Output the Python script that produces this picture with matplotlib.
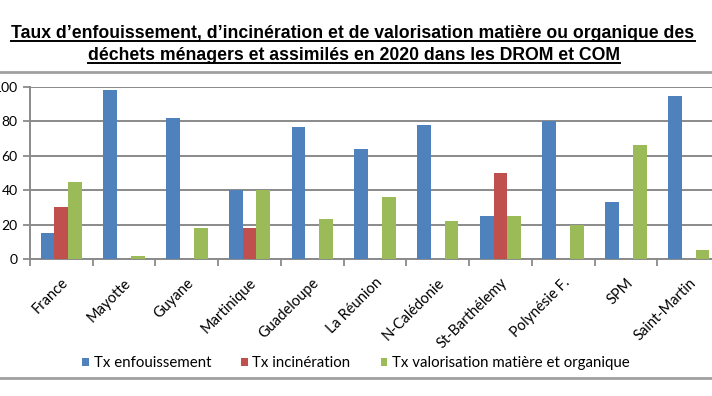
import matplotlib
matplotlib.use("Agg")
import matplotlib.pyplot as plt
from matplotlib.lines import Line2D
from matplotlib.patches import Patch
import numpy as np

categories = ["France", "Mayotte", "Guyane", "Martinique", "Guadeloupe", "La Réunion",
              "N-Calédonie", "St-Barthélemy", "Polynésie F.", "SPM", "Saint-Martin"]
enfouissement = [15, 98, 82, 40, 77, 64, 78, 25, 80, 33, 95]
incineration = [30, 0, 0, 18, 0, 0, 0, 50, 0, 0, 0]
valorisation = [45, 2, 18, 40, 23, 36, 22, 25, 20, 66, 5]
series_names = ["Tx enfouissement", "Tx incinération", "Tx valorisation matière et organique"]
yticks = [0, 20, 40, 60, 80, 100]
title1 = "Taux d\u2019enfouissement, d\u2019incinération et de valorisation matière ou organique des"
title2 = "déchets ménagers et assimilés en 2020 dans les DROM et COM"

colors = ["#4F81BD", "#C0504D", "#9BBB59"]
W, H = 712, 396
fig = plt.figure(figsize=(W / 100, H / 100), dpi=100)
fig.patch.set_facecolor("white")

ax = fig.add_axes([30 / W, (H - 259) / H, (720 - 30) / W, (259 - 87) / H])
x = np.arange(len(categories))
bw = 0.22
for i, (vals, c) in enumerate(zip([enfouissement, incineration, valorisation], colors)):
    ax.bar(x + (i - 1) * bw, vals, width=bw, color=c, zorder=3)

ax.set_xlim(-0.5, len(categories) - 0.5)
ax.set_ylim(0, 100)
ax.set_yticks(yticks)
ax.set_yticklabels([str(v) for v in yticks], family="Lato", fontsize=10)
ax.yaxis.grid(True, color="#8a8a8a", lw=1.4, zorder=0)
ax.set_axisbelow(True)
ax.tick_params(axis="y", length=5, width=1.3, color="#8a8a8a", pad=4)
ax.set_xticks(x)
ax.set_xticklabels(categories, rotation=45, ha="right", rotation_mode="anchor",
                   family="Lato", fontsize=10.5)
ax.tick_params(axis="x", which="major", length=0, pad=12)
ax.set_xticks(np.arange(-0.5, len(categories), 1), minor=True)
ax.tick_params(axis="x", which="minor", length=5, width=1.3, color="#8a8a8a")
for s in ["top", "right"]:
    ax.spines[s].set_visible(False)
for s in ["left", "bottom"]:
    ax.spines[s].set_color("#8a8a8a")
    ax.spines[s].set_linewidth(1.4)

handles = [Patch(facecolor=c, edgecolor="none") for c in colors]
fig.legend(handles, series_names, loc="center", bbox_to_anchor=(0.5, 1 - 363 / H),
           ncol=3, frameon=False, prop={"family": "Lato", "size": 10.8},
           handlelength=0.45, handleheight=0.45, handletextpad=0.3, columnspacing=2.0)

# title
tfont = dict(family=["Liberation Sans"], weight="bold", fontsize=12.7)
t1 = fig.text(353 / W, 1 - 34 / H, title1, ha="center", va="center", **tfont)
t2 = fig.text(354 / W, 1 - 56 / H, title2, ha="center", va="center", **tfont)
fig.canvas.draw()
r = fig.canvas.get_renderer()
for t in (t1, t2):
    bb = t.get_window_extent(r)
    yline = bb.y0 + 1.5
    fig.add_artist(Line2D([bb.x0 / W, bb.x1 / W], [yline / H, yline / H],
                          transform=fig.transFigure, color="black", lw=1.4))

# separators
for yy in (72, 378):
    fig.add_artist(Line2D([0, 1], [1 - yy / H, 1 - yy / H], transform=fig.transFigure,
                          color="#a0a0a0", lw=2))

fig.savefig("out.png", dpi=100)
